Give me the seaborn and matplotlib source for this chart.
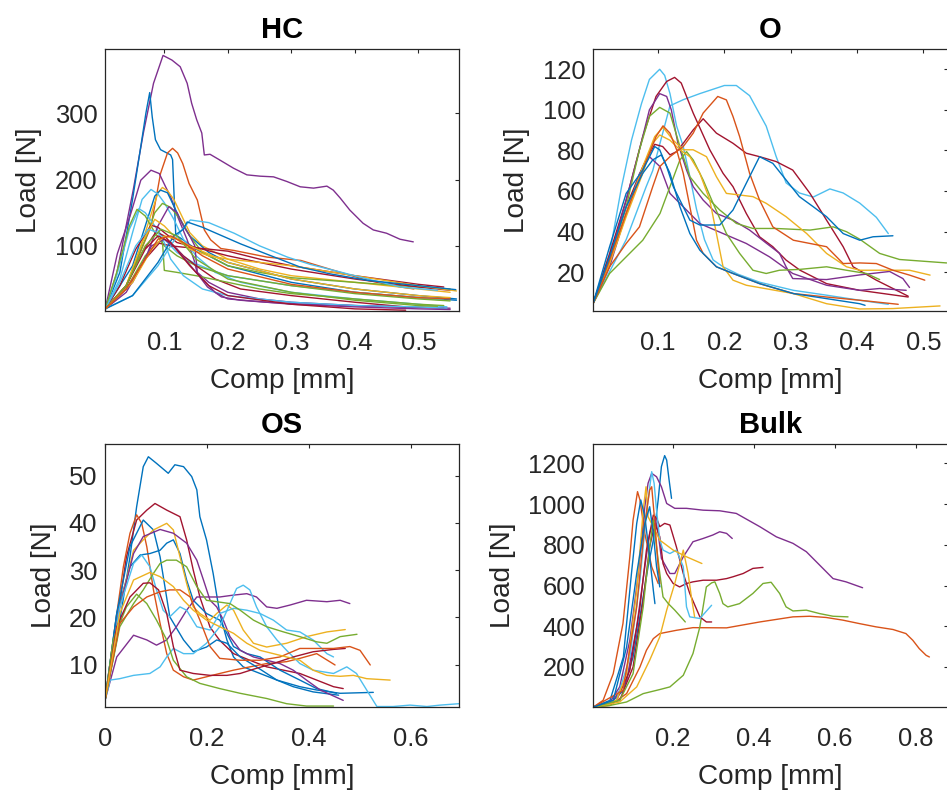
import numpy as np
import pandas as pd
import matplotlib
matplotlib.use("Agg")
import matplotlib.pyplot as plt
import seaborn as sns

# MATLAB default colour order
COLORS = {"b": "#0072BD", "o": "#D95319", "y": "#EDB120", "p": "#7E2F8E",
          "g": "#77AC30", "c": "#4DBEEE", "r": "#A2142F"}

PANEL_TITLES = ["HC", "O", "OS", "Bulk"]
X_LABEL = "Comp [mm]"
Y_LABEL = "Load [N]"

# ---------------- HC ----------------
HC_COL = ["p", "b", "o", "p", "y", "b", "c", "g", "c", "g", "p", "r", "r", "r",
          "y", "g", "c", "c", "b", "p", "r", "g", "y", "o"]
HC_X = [
    [0.007, 0.025, 0.051, 0.067, 0.083, 0.098, 0.112, 0.125, 0.136, 0.143, 0.151, 0.159, 0.163, 0.172, 0.188, 0.209, 0.230, 0.251, 0.272, 0.293, 0.314, 0.335, 0.356, 0.366, 0.377, 0.392, 0.413, 0.429, 0.450, 0.471, 0.492],
    [0.007, 0.03, 0.05, 0.063, 0.071, 0.077, 0.081, 0.086, 0.094, 0.11, 0.113, 0.118, 0.125, 0.15, 0.2, 0.3, 0.4, 0.5, 0.56],
    [0.007, 0.04, 0.079, 0.094, 0.105, 0.113, 0.121, 0.129, 0.139, 0.152, 0.163, 0.173, 0.189, 0.21, 0.236, 0.262, 0.315, 0.367, 0.42, 0.472, 0.493],
    [0.007, 0.026, 0.047, 0.063, 0.079, 0.092, 0.102, 0.11, 0.121, 0.136, 0.147, 0.152, 0.168, 0.19, 0.22, 0.26, 0.32, 0.4, 0.48, 0.54],
    [0.007, 0.04, 0.06, 0.08, 0.09, 0.097, 0.105, 0.115, 0.13, 0.14, 0.16, 0.2, 0.25, 0.3, 0.4, 0.5, 0.55],
    [0.007, 0.05, 0.07, 0.085, 0.094, 0.105, 0.115, 0.125, 0.14, 0.17, 0.2, 0.3, 0.4, 0.5, 0.56],
    [0.007, 0.03, 0.05, 0.065, 0.079, 0.09, 0.1, 0.115, 0.13, 0.15, 0.18, 0.22, 0.3, 0.4, 0.5, 0.545],
    [0.007, 0.04, 0.07, 0.085, 0.097, 0.11, 0.125, 0.14, 0.16, 0.2, 0.25, 0.3, 0.4, 0.5, 0.55],
    [0.007, 0.025, 0.045, 0.06, 0.07, 0.085, 0.1, 0.12, 0.145, 0.17, 0.2, 0.3, 0.4, 0.5, 0.54],
    [0.007, 0.025, 0.045, 0.057, 0.07, 0.085, 0.1, 0.12, 0.15, 0.2, 0.3, 0.4, 0.5, 0.55],
    [0.007, 0.04, 0.07, 0.09, 0.107, 0.12, 0.13, 0.14, 0.148, 0.152, 0.17, 0.2, 0.25, 0.3, 0.4, 0.5, 0.55],
    [0.007, 0.03, 0.055, 0.079, 0.09, 0.1, 0.12, 0.14, 0.16, 0.2, 0.25, 0.3, 0.4, 0.5, 0.55],
    [0.007, 0.04, 0.065, 0.087, 0.1, 0.115, 0.13, 0.15, 0.18, 0.22, 0.3, 0.4, 0.48],
    [0.007, 0.04, 0.07, 0.092, 0.11, 0.13, 0.16, 0.2, 0.25, 0.3, 0.4, 0.5, 0.54],
    [0.007, 0.04, 0.065, 0.085, 0.1, 0.12, 0.14, 0.17, 0.2, 0.3, 0.4, 0.5, 0.56],
    [0.007, 0.04, 0.07, 0.09, 0.097, 0.1, 0.12, 0.15, 0.2, 0.25, 0.3, 0.4, 0.5, 0.54],
    [0.007, 0.03, 0.055, 0.075, 0.09, 0.1, 0.11, 0.13, 0.16, 0.2, 0.3, 0.4, 0.5, 0.545],
    [0.007, 0.05, 0.09, 0.12, 0.141, 0.17, 0.21, 0.25, 0.294, 0.33, 0.367, 0.42, 0.472, 0.53],
    [0.007, 0.05, 0.09, 0.115, 0.13, 0.136, 0.16, 0.22, 0.26, 0.314, 0.36, 0.42, 0.5, 0.559],
    [0.007, 0.05, 0.08, 0.1, 0.12, 0.15, 0.18, 0.2, 0.3, 0.4, 0.5, 0.55],
    [0.007, 0.04, 0.07, 0.09, 0.11, 0.14, 0.17, 0.2, 0.3, 0.4, 0.48],
    [0.007, 0.04, 0.07, 0.095, 0.12, 0.15, 0.2, 0.3, 0.4, 0.5, 0.53],
    [0.007, 0.05, 0.08, 0.1, 0.12, 0.14, 0.2, 0.3, 0.4, 0.5, 0.55],
    [0.007, 0.04, 0.07, 0.09, 0.11, 0.13, 0.16, 0.2, 0.3, 0.4, 0.5, 0.55],
]
HC_Y = [
    [5, 58, 184, 270, 345, 387, 380, 370, 345, 315, 290, 270, 237, 238, 229, 217, 207, 205, 204, 197, 189, 187, 190, 184, 172, 154, 134, 124, 119, 110, 106],
    [5, 60, 170, 250, 300, 331, 294, 260, 245, 237, 230, 116, 112, 95, 70, 45, 30, 22, 18],
    [5, 40, 129, 209, 240, 247, 240, 224, 194, 169, 124, 109, 96, 93, 88, 83, 78, 63, 48, 38, 35],
    [5, 88, 148, 199, 214, 209, 189, 174, 144, 109, 78, 58, 38, 23, 18, 15, 12, 10, 8, 7],
    [5, 40, 90, 150, 180, 188, 183, 170, 140, 120, 100, 80, 65, 55, 45, 35, 30],
    [5, 70, 130, 175, 184, 180, 160, 140, 115, 90, 75, 50, 35, 25, 20],
    [5, 50, 120, 170, 185, 178, 165, 140, 110, 85, 60, 45, 30, 20, 12, 8],
    [5, 40, 110, 150, 164, 158, 140, 115, 90, 70, 60, 52, 45, 38, 35],
    [5, 55, 125, 156, 150, 130, 110, 90, 75, 65, 55, 40, 30, 22, 18],
    [5, 60, 130, 155, 145, 120, 100, 85, 70, 55, 40, 28, 20, 17],
    [5, 30, 80, 130, 159, 150, 130, 115, 100, 60, 45, 30, 20, 15, 10, 7, 6],
    [5, 40, 95, 131, 128, 120, 105, 100, 95, 85, 75, 65, 50, 38, 33],
    [5, 40, 90, 121, 115, 100, 85, 70, 50, 35, 25, 15, 8],
    [5, 35, 80, 104, 100, 98, 96, 92, 80, 70, 55, 42, 38],
    [5, 40, 105, 140, 130, 110, 95, 85, 80, 70, 55, 40, 32],
    [5, 35, 85, 105, 108, 63, 60, 55, 45, 35, 28, 20, 12, 10],
    [5, 45, 100, 125, 120, 105, 80, 55, 35, 25, 15, 10, 8, 6],
    [5, 25, 70, 115, 139, 135, 119, 100, 83, 72, 63, 50, 38, 33],
    [5, 25, 75, 115, 125, 136, 128, 103, 88, 68, 58, 48, 40, 34],
    [5, 45, 100, 110, 95, 60, 30, 20, 12, 8, 5, 4],
    [5, 40, 95, 115, 105, 70, 40, 25, 12, 5, 3],
    [5, 40, 100, 125, 115, 80, 50, 30, 18, 10, 9],
    [5, 45, 95, 115, 110, 100, 75, 50, 35, 25, 22],
    [5, 35, 80, 110, 115, 105, 85, 65, 42, 30, 22, 20],
]

# ---------------- O ----------------
O_COL = ["c", "c", "r", "r", "p", "p", "g", "g", "y", "y", "o", "o", "b", "b"]
O_X = [
    [0.002, 0.027, 0.045, 0.06, 0.075, 0.087, 0.1025, 0.11, 0.118, 0.128, 0.138, 0.148, 0.158, 0.17, 0.183, 0.198, 0.22, 0.253, 0.304, 0.354, 0.404, 0.447],
    [0.002, 0.052, 0.082, 0.092, 0.118, 0.138, 0.163, 0.2, 0.218, 0.238, 0.263, 0.278, 0.293, 0.313, 0.334, 0.359, 0.379, 0.404, 0.429, 0.447],
    [0.002, 0.027, 0.052, 0.077, 0.097, 0.113, 0.125, 0.135, 0.145, 0.153, 0.178, 0.198, 0.213, 0.233, 0.253, 0.273, 0.293, 0.314, 0.354, 0.404, 0.477],
    [0.002, 0.027, 0.052, 0.077, 0.095, 0.107, 0.118, 0.128, 0.138, 0.153, 0.168, 0.188, 0.213, 0.233, 0.253, 0.278, 0.303, 0.329, 0.354, 0.379, 0.394, 0.429, 0.454, 0.477],
    [0.002, 0.027, 0.052, 0.072, 0.087, 0.1025, 0.113, 0.12, 0.13, 0.143, 0.153, 0.168, 0.188, 0.213, 0.238, 0.263, 0.283, 0.293, 0.303, 0.354, 0.404, 0.449, 0.469, 0.479],
    [0.002, 0.027, 0.052, 0.072, 0.087, 0.103, 0.118, 0.138, 0.163, 0.198, 0.233, 0.268, 0.303, 0.354, 0.404, 0.434, 0.474],
    [0.002, 0.027, 0.052, 0.072, 0.087, 0.1025, 0.118, 0.133, 0.148, 0.168, 0.193, 0.218, 0.243, 0.278, 0.329, 0.364, 0.384, 0.404, 0.434, 0.464, 0.535],
    [0.002, 0.027, 0.052, 0.077, 0.103, 0.118, 0.133, 0.143, 0.153, 0.168, 0.183, 0.203, 0.223, 0.243, 0.263, 0.283, 0.313, 0.354, 0.384, 0.414, 0.434],
    [0.002, 0.027, 0.052, 0.077, 0.095, 0.1075, 0.123, 0.138, 0.153, 0.173, 0.188, 0.203, 0.223, 0.243, 0.263, 0.293, 0.324, 0.354, 0.384, 0.404, 0.434, 0.479, 0.51],
    [0.002, 0.027, 0.052, 0.077, 0.092, 0.1025, 0.118, 0.133, 0.148, 0.163, 0.178, 0.188, 0.198, 0.213, 0.233, 0.304, 0.354, 0.404, 0.454, 0.525],
    [0.002, 0.027, 0.052, 0.072, 0.092, 0.1025, 0.118, 0.138, 0.153, 0.168, 0.19, 0.203, 0.213, 0.223, 0.238, 0.253, 0.273, 0.304, 0.329, 0.354, 0.379, 0.404, 0.429, 0.454, 0.479, 0.502],
    [0.002, 0.027, 0.052, 0.077, 0.097, 0.1075, 0.118, 0.128, 0.138, 0.148, 0.158, 0.168, 0.188, 0.213, 0.253, 0.304, 0.354, 0.404, 0.462],
    [0.002, 0.027, 0.052, 0.077, 0.095, 0.1025, 0.113, 0.123, 0.133, 0.148, 0.163, 0.193, 0.213, 0.233, 0.253, 0.273, 0.293, 0.313, 0.334, 0.354, 0.379, 0.404, 0.424, 0.454],
    [0.002, 0.027, 0.052, 0.077, 0.092, 0.105, 0.118, 0.133, 0.148, 0.163, 0.188, 0.213, 0.253, 0.304, 0.354, 0.404, 0.412],
]
O_Y = [
    [4.4, 29, 62, 85, 103, 115, 120, 117, 108, 92, 82, 67, 51, 36, 26, 22.6, 19, 15, 11, 8.6, 6.1, 4.1],
    [4.4, 36, 62, 70, 102, 105, 108, 112, 112, 107, 92, 77, 64, 59, 57, 61, 59, 54, 47, 39],
    [4.4, 29, 55.5, 86.8, 106.6, 114, 116, 113.2, 104.9, 98.4, 80.3, 68.7, 62.1, 48.9, 37.4, 32.5, 25.9, 20.9, 14.3, 11, 7.7],
    [4.4, 27.5, 52.2, 72, 83, 81.9, 77.8, 79.4, 83.5, 90.1, 95.6, 88.5, 83.5, 78.6, 76.9, 74.5, 70.3, 58.8, 45.6, 32.5, 22.6, 16, 11.9, 8.1],
    [4.4, 25.9, 55.5, 80.3, 100, 108, 106.6, 100, 83.5, 70.3, 62.1, 55.5, 48.9, 45.6, 40.7, 34.3, 29.3, 22.6, 16.8, 16.3, 18.6, 20.3, 16.8, 12.4],
    [4.4, 22.6, 49, 68.5, 76.9, 72, 58.8, 52.2, 43.9, 39, 34.1, 27.5, 19.3, 13.5, 11, 11.9, 11],
    [4.4, 25.9, 52.2, 80.3, 96.8, 101.2, 98.4, 81.9, 67, 58.8, 50.6, 44, 41.5, 41.5, 40.7, 42.3, 39.9, 36.2, 29.2, 26.2, 24.5],
    [4.4, 19.3, 27.5, 35.7, 48.9, 62.1, 75.3, 79.4, 75.3, 65.4, 53.9, 39, 29.2, 20.9, 19.3, 20.9, 21.3, 22.6, 20.9, 19.3, 16.3],
    [4.4, 25.9, 49, 72, 86.8, 91.4, 85, 80.3, 80.3, 76.9, 67, 58.8, 58, 57.2, 53.9, 47.3, 39, 29.2, 22.6, 20.9, 20.9, 20.9, 18.5],
    [4.4, 24.2, 47.3, 68.7, 83.5, 87.6, 85, 80.3, 76.9, 68.7, 55.5, 39, 22.6, 16, 13.5, 9.4, 4.4, 1.8, 2, 3.3],
    [4.4, 22.6, 34.1, 42.3, 62.1, 72, 76.9, 81.9, 88.5, 98.4, 106.6, 104.9, 96.7, 86.8, 68.7, 55.5, 42.3, 35.7, 34.1, 32.5, 24.2, 24.5, 24.2, 20.9, 18.5, 16],
    [4.4, 25.9, 49, 70.3, 86.8, 92.1, 88.5, 80.3, 68.7, 52.2, 35.7, 29.2, 22.6, 19.3, 14.3, 9.4, 7.7, 6.1, 4.1],
    [4.4, 32.5, 58.8, 70.3, 81.9, 80.3, 72, 62.1, 55.5, 45.6, 43.2, 43.2, 50.6, 63.8, 76.9, 73.6, 65.4, 57.2, 52.2, 47.3, 39, 35.7, 37.4, 37.9],
    [4.4, 27.5, 52.2, 68.7, 75.3, 77.8, 68.7, 52.2, 39, 30.8, 22.6, 19.3, 14.3, 9.4, 6.9, 4.4, 3.6],
]

# ---------------- OS ----------------
OS_COL = ["b", "r", "o", "b", "b", "y", "p", "p", "c", "c", "g", "g", "r", "o", "y"]
OS_X = [
    [0, 0.023, 0.049, 0.062, 0.075, 0.085, 0.101, 0.124, 0.137, 0.154, 0.17, 0.18, 0.186, 0.199, 0.212, 0.225, 0.239, 0.252, 0.271, 0.304, 0.337, 0.369, 0.408, 0.458],
    [0, 0.023, 0.042, 0.062, 0.082, 0.098, 0.121, 0.147, 0.16, 0.173, 0.186, 0.206, 0.225, 0.252, 0.284, 0.317, 0.35, 0.382, 0.415, 0.448, 0.467],
    [0, 0.016, 0.036, 0.049, 0.062, 0.072, 0.082, 0.095, 0.108, 0.121, 0.134, 0.154, 0.173, 0.199, 0.225, 0.252, 0.284, 0.317, 0.356, 0.382, 0.415, 0.451],
    [0, 0.023, 0.049, 0.075, 0.095, 0.108, 0.127, 0.154, 0.173, 0.199, 0.219, 0.239, 0.265, 0.297, 0.337, 0.382, 0.415, 0.461, 0.526],
    [0, 0.023, 0.049, 0.069, 0.088, 0.108, 0.121, 0.134, 0.147, 0.16, 0.173, 0.199, 0.225, 0.239, 0.252, 0.278, 0.304, 0.343, 0.382, 0.415, 0.454],
    [0, 0.029, 0.056, 0.075, 0.095, 0.108, 0.121, 0.134, 0.147, 0.16, 0.173, 0.186, 0.206, 0.219, 0.239, 0.252, 0.271, 0.291, 0.317, 0.356, 0.395, 0.435, 0.471],
    [0, 0.029, 0.056, 0.075, 0.108, 0.134, 0.16, 0.18, 0.193, 0.206, 0.219, 0.232, 0.245, 0.265, 0.291, 0.317, 0.343, 0.369, 0.395, 0.422, 0.467],
    [0, 0.023, 0.056, 0.082, 0.101, 0.121, 0.14, 0.16, 0.18, 0.206, 0.225, 0.252, 0.278, 0.297, 0.317, 0.337, 0.363, 0.395, 0.435, 0.461, 0.48],
    [0, 0.01, 0.029, 0.056, 0.088, 0.108, 0.121, 0.134, 0.154, 0.173, 0.199, 0.225, 0.245, 0.258, 0.271, 0.284, 0.297, 0.317, 0.337, 0.356, 0.382, 0.408, 0.448, 0.474, 0.493, 0.513, 0.533, 0.565, 0.598, 0.631, 0.657, 0.694],
    [0, 0.029, 0.056, 0.072, 0.088, 0.101, 0.114, 0.127, 0.147, 0.16, 0.18, 0.206, 0.225, 0.252, 0.278, 0.304, 0.33, 0.356, 0.382, 0.408, 0.435, 0.448],
    [0, 0.029, 0.056, 0.075, 0.095, 0.108, 0.121, 0.14, 0.16, 0.18, 0.199, 0.219, 0.245, 0.265, 0.291, 0.317, 0.35, 0.382, 0.415, 0.435, 0.461, 0.494],
    [0, 0.016, 0.042, 0.062, 0.082, 0.101, 0.121, 0.134, 0.16, 0.186, 0.225, 0.265, 0.317, 0.356, 0.395, 0.448],
    [0, 0.023, 0.049, 0.075, 0.088, 0.105, 0.121, 0.134, 0.147, 0.173, 0.206, 0.239, 0.265, 0.297, 0.33, 0.369, 0.408, 0.448, 0.471],
    [0, 0.029, 0.056, 0.082, 0.108, 0.127, 0.147, 0.167, 0.186, 0.206, 0.225, 0.265, 0.304, 0.343, 0.382, 0.415, 0.448, 0.48, 0.5, 0.52],
    [0, 0.029, 0.056, 0.088, 0.108, 0.134, 0.154, 0.173, 0.199, 0.225, 0.252, 0.278, 0.304, 0.33, 0.356, 0.382, 0.408, 0.435, 0.461, 0.487, 0.513, 0.559],
]
OS_Y = [
    [2.4, 15.2, 32.8, 43.4, 51.9, 54, 52.6, 50.5, 52.3, 51.9, 49.8, 47, 41.3, 36.4, 29.3, 20.8, 15.2, 11.6, 9.5, 8.1, 6.7, 5.3, 4.2, 3.5],
    [2.4, 18.7, 32.8, 40.6, 42.7, 44.1, 42.7, 41.3, 36.4, 30, 24.3, 17.9, 15.1, 12.3, 10.9, 9.5, 8.8, 8.1, 6.7, 5.3, 4.9],
    [2.4, 15.2, 30.7, 37.8, 41.7, 39.9, 34.9, 25.8, 18.7, 12.3, 8.8, 7.4, 6.7, 7.4, 8.1, 8.8, 9.5, 10.2, 10.6, 11.3, 12.3, 9.9],
    [2.4, 20.8, 35, 40.6, 38.5, 32.8, 20.1, 15.2, 12.7, 13.7, 15.2, 14.5, 11.6, 9.5, 6.7, 5.3, 4.6, 3.9, 4.1],
    [2.4, 20.8, 30.7, 33.2, 33.5, 34.2, 35.7, 36.4, 33.5, 27.9, 23.6, 20.8, 19.4, 16.6, 13.8, 12.3, 11.6, 8.8, 6.7, 4.9, 3.9],
    [2.4, 22.2, 34.2, 36.4, 38.5, 39.2, 39.9, 38.5, 32.8, 27.2, 22.2, 20.8, 19.4, 20.8, 22.6, 21.5, 17.3, 14.5, 13.7, 14.5, 15.9, 16.9, 17.4],
    [2.4, 22.2, 33.5, 37.1, 38.6, 37.8, 35.7, 32.1, 27.9, 23.6, 22.2, 19.4, 15.9, 13, 11.6, 10.9, 10.2, 8.8, 6.7, 4.6, 2.4],
    [2.4, 11.6, 16.2, 15.2, 14.1, 15.2, 18, 21.5, 24.3, 24.3, 24.3, 24.7, 25, 24.3, 22.2, 21.9, 22.6, 23.6, 23.3, 23.6, 22.9],
    [2.4, 6.7, 7, 7.7, 8.1, 9.5, 11.6, 13.4, 12.3, 12.3, 14.5, 18, 22.9, 26.1, 26.8, 25.8, 22.2, 18, 15.2, 13, 10.2, 8.8, 8.1, 9.5, 8.1, 4.6, 1.1, 1.1, 1.4, 1.1, 1.4, 1.7],
    [2.4, 22.2, 31.4, 33.2, 30.7, 25.8, 21.5, 20.1, 22.2, 21.5, 18, 17.3, 20.8, 21.9, 21.5, 20.8, 19.4, 17.3, 16.9, 15.2, 12.3, 11.6],
    [2.4, 18, 22.9, 25.8, 29.3, 31.4, 32.1, 32.1, 30.7, 26.5, 23.6, 23.3, 22.9, 21.5, 19.4, 18, 16.9, 15.9, 14.8, 14.5, 15.9, 16.4],
    [2.4, 15.2, 22.2, 24.9, 22.9, 19.4, 15.2, 10.9, 7.4, 6, 4.9, 3.9, 2.8, 1.7, 1.2, 1.2],
    [2.4, 18, 24.3, 27.2, 27.3, 25.8, 20.8, 13.8, 8.8, 8.1, 7.7, 7.7, 8.1, 9.2, 10.2, 11.6, 12.7, 13.2, 13.4],
    [2.4, 18.7, 22.2, 24.3, 25.4, 25.8, 25.8, 24.3, 19.4, 13.8, 11.3, 10.9, 10.9, 11.6, 13.4, 13.4, 13.4, 13.8, 13, 9.9],
    [2.4, 20.8, 27.9, 29.5, 28.6, 26.5, 23.6, 21.5, 19.4, 18, 16.6, 14.5, 13, 12.3, 11.6, 10.9, 8.8, 7.7, 7.5, 7.7, 7, 6.7],
]

# ---------------- Bulk ----------------
BULK_COL = ["b", "p", "p", "o", "o", "g", "r", "r", "c", "y", "y", "g", "b", "o", "b"]
BULK_X = [
    [0.003, 0.044, 0.077, 0.101, 0.122, 0.138, 0.151, 0.163, 0.171, 0.179, 0.184, 0.19, 0.196],
    [0.003, 0.044, 0.068, 0.093, 0.114, 0.13, 0.138, 0.147, 0.159, 0.171, 0.184, 0.204, 0.233, 0.274, 0.315, 0.356, 0.414, 0.455, 0.496, 0.529, 0.562, 0.595, 0.627, 0.668],
    [0.003, 0.052, 0.085, 0.11, 0.13, 0.142, 0.155, 0.163, 0.171, 0.192, 0.204, 0.225, 0.249, 0.274, 0.298, 0.315, 0.332, 0.346],
    [0.003, 0.027, 0.052, 0.076, 0.093, 0.101, 0.112, 0.118, 0.13, 0.147, 0.163],
    [0.003, 0.044, 0.085, 0.118, 0.134, 0.151, 0.167, 0.208, 0.249, 0.332, 0.414, 0.496, 0.537, 0.578, 0.619, 0.66, 0.701, 0.743, 0.775, 0.792, 0.808, 0.825, 0.833],
    [0.003, 0.044, 0.085, 0.126, 0.167, 0.192, 0.225, 0.249, 0.266, 0.282, 0.295, 0.303, 0.315, 0.323, 0.335, 0.364, 0.397, 0.422, 0.442, 0.463, 0.479, 0.496, 0.529, 0.562, 0.595, 0.632],
    [0.003, 0.06, 0.093, 0.118, 0.134, 0.151, 0.159, 0.167, 0.179, 0.192, 0.208, 0.225, 0.241, 0.266, 0.282, 0.295],
    [0.003, 0.068, 0.101, 0.126, 0.142, 0.155, 0.167, 0.175, 0.184, 0.2, 0.216, 0.233, 0.249, 0.274, 0.307, 0.332, 0.348, 0.373, 0.397, 0.422],
    [0.003, 0.06, 0.093, 0.118, 0.134, 0.147, 0.153, 0.159, 0.167, 0.175, 0.192, 0.208, 0.225, 0.233, 0.241, 0.266, 0.295],
    [0.003, 0.06, 0.085, 0.11, 0.126, 0.133, 0.138, 0.155, 0.167, 0.2, 0.233, 0.271],
    [0.003, 0.068, 0.11, 0.142, 0.167, 0.184, 0.204, 0.225, 0.237, 0.245, 0.253],
    [0.003, 0.068, 0.101, 0.126, 0.142, 0.151, 0.159, 0.167, 0.175, 0.188, 0.204, 0.23],
    [0.003, 0.044, 0.077, 0.097, 0.11, 0.12, 0.13, 0.142, 0.151, 0.155],
    [0.003, 0.076, 0.11, 0.13, 0.142, 0.147, 0.155, 0.163, 0.167],
    [0.003, 0.052, 0.085, 0.11, 0.13, 0.142, 0.151, 0.159, 0.167],
]
BULK_Y = [
    [3, 20, 85, 249, 495, 692, 823, 1020, 1184, 1238, 1216, 1118, 1028],
    [3, 28, 102, 331, 659, 987, 1102, 1151, 1134, 1085, 1003, 979, 979, 970, 967, 954, 889, 839, 807, 766, 700, 634, 618, 589],
    [3, 36, 134, 397, 692, 856, 938, 856, 733, 659, 659, 741, 815, 831, 848, 864, 856, 831],
    [3, 36, 167, 413, 741, 921, 1061, 1020, 856, 692, 610],
    [3, 11, 69, 200, 282, 339, 364, 380, 393, 392, 421, 446, 449, 443, 430, 413, 397, 384, 364, 331, 290, 257, 249],
    [3, 11, 28, 69, 89, 102, 159, 266, 397, 593, 613, 618, 561, 511, 495, 511, 561, 610, 616, 561, 495, 475, 479, 462, 449, 446],
    [3, 36, 184, 495, 774, 946, 930, 889, 905, 897, 790, 659, 561, 446, 421, 421],
    [3, 36, 200, 528, 790, 905, 839, 708, 659, 610, 593, 610, 618, 626, 626, 634, 643, 659, 684, 689],
    [3, 36, 249, 626, 954, 1159, 1102, 970, 823, 774, 757, 774, 692, 495, 446, 438, 503],
    [3, 36, 167, 577, 970, 1085, 938, 872, 823, 774, 741, 708],
    [3, 28, 102, 233, 348, 479, 610, 774, 659, 544, 446],
    [3, 36, 167, 495, 790, 921, 790, 659, 544, 511, 479, 421],
    [3, 36, 249, 659, 905, 1020, 938, 741, 577, 511],
    [3, 85, 495, 905, 1069, 1085, 905, 692, 610],
    [3, 36, 298, 659, 905, 987, 856, 692, 593],
]

# ticks
HC_XTICKS = [0.1, 0.2, 0.3, 0.4, 0.5]
HC_YTICKS = [100, 200, 300]
O_XTICKS = [0.1, 0.2, 0.3, 0.4, 0.5]
O_YTICKS = [20, 40, 60, 80, 100, 120]
OS_XTICKS = [0, 0.2, 0.4, 0.6]
OS_YTICKS = [10, 20, 30, 40, 50]
BULK_XTICKS = [0.2, 0.4, 0.6, 0.8]
BULK_YTICKS = [200, 400, 600, 800, 1000, 1200]

# ---------------- drawing ----------------
sns.set_style("white")
plt.rcParams["font.family"] = ["Liberation Sans", "DejaVu Sans"]
AXCOL = "#262626"

W, H = 947, 796
fig = plt.figure(figsize=(W / 100, H / 100), dpi=100)


def px_axes(l, t, r, b):
    return fig.add_axes([l / W, 1 - b / H, (r - l) / W, (b - t) / H])


panels = [
    (PANEL_TITLES[0], HC_X, HC_Y, HC_COL, (105, 49, 459, 311), (0.0066, 0.564), (1.8, 396.7), HC_XTICKS, HC_YTICKS),
    (PANEL_TITLES[1], O_X, O_Y, O_COL, (593, 49, 948, 311), (0.002, 0.537), (0.8, 130), O_XTICKS, O_YTICKS),
    (PANEL_TITLES[2], OS_X, OS_Y, OS_COL, (105, 444, 459, 707), (0.0, 0.694), (1.0, 56.7), OS_XTICKS, OS_YTICKS),
    (PANEL_TITLES[3], BULK_X, BULK_Y, BULK_COL, (593, 444, 948, 707), (0.002, 0.879), (3.3, 1295), BULK_XTICKS, BULK_YTICKS),
]

for title, xs, ys, cols, box, xl, yl, xt, yt in panels:
    ax = px_axes(*box)
    rows = []
    for i, (cx, cy) in enumerate(zip(xs, ys)):
        for j, (a, b) in enumerate(zip(cx, cy)):
            rows.append((f"c{i}", j, a, b))
    df = pd.DataFrame(rows, columns=["curve", "k", "x", "y"])
    pal = {f"c{i}": COLORS[c] for i, c in enumerate(cols)}
    sns.lineplot(data=df, x="x", y="y", hue="curve", palette=pal, sort=False,
                 estimator=None, legend=False, linewidth=1.0, ax=ax)
    ax.set_xlim(*xl)
    ax.set_ylim(*yl)
    ax.set_xticks(xt)
    ax.set_xticklabels([f"{v:g}" for v in xt])
    ax.set_yticks(yt)
    ax.set_yticklabels([f"{v:g}" for v in yt])
    ax.tick_params(axis="both", direction="in", length=3, width=0.8, colors=AXCOL,
                   labelsize=18.4, top=True, right=True)
    ax.tick_params(axis="x", pad=14.5)
    ax.tick_params(axis="y", pad=5.5)
    for s in ax.spines.values():
        s.set_color(AXCOL)
        s.set_linewidth(0.9)
        s.set_visible(True)
    ax.set_xlabel(X_LABEL, fontsize=20.2, color=AXCOL, labelpad=9.5)
    ax.set_ylabel(Y_LABEL, fontsize=20.2, color=AXCOL, labelpad=8.9)
    ax.set_title(title, fontsize=21, fontweight="bold", color="black", pad=7.8)

fig.savefig("out.png", dpi=100)
